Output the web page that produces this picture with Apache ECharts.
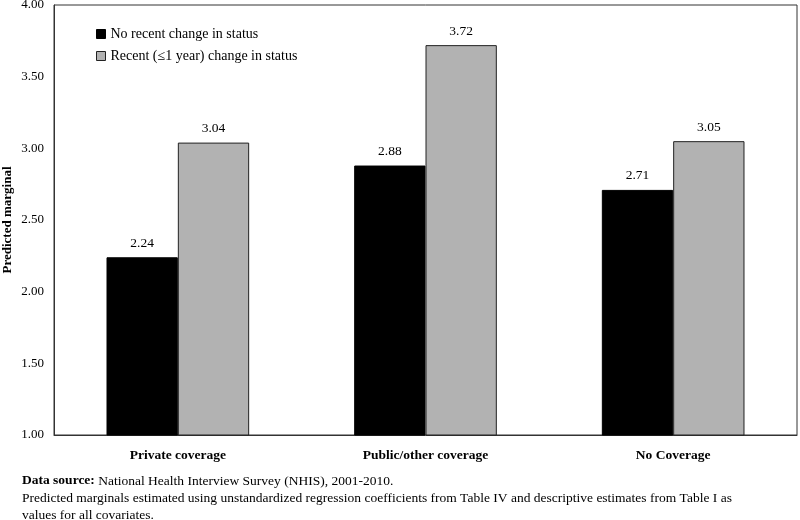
<!DOCTYPE html>
<html><head><meta charset="utf-8">
<script src="https://cdn.jsdelivr.net/npm/echarts@6/dist/echarts.min.js"></script>
<style>html,body{margin:0;padding:0;background:#fff}#c{width:800px;height:520px}</style>
</head><body><div id="c"></div>
<script>
const categories = ['Private coverage', 'Public/other coverage', 'No Coverage'];
const seriesNames = ['No recent change in status', 'Recent (\u22641 year) change in status'];
const noRecent = [2.24, 2.88, 2.71];
const recent = [3.04, 3.72, 3.05];
const yTicks = [1.00, 1.50, 2.00, 2.50, 3.00, 3.50, 4.00];
const noteBold = 'Data source:';
const noteLines = [
  ' National Health Interview Survey (NHIS), 2001-2010.',
  'Predicted marginals estimated using unstandardized regression coefficients from Table IV and descriptive estimates from Table I as',
  'values for all covariates.'
];

const F = '"Liberation Serif","Times New Roman",serif';
const mc = document.createElement('canvas').getContext('2d');
mc.font = 'bold 13.5px ' + F;
const boldW = mc.measureText(noteBold).width;

const chart = echarts.init(document.getElementById('c'), null, {renderer: 'canvas'});
const lbl = {show: true, position: 'top', distance: 7, color: '#000', fontFamily: F, fontSize: 13.5, formatter: p => p.value.toFixed(2)};
chart.setOption({
  animation: false,
  textStyle: {fontFamily: F},
  grid: {left: 54, right: 3, top: 5, bottom: 85, containLabel: false, outerBoundsMode: 'none',
         show: true, borderColor: '#333', borderWidth: 1},
  legend: {
    orient: 'vertical', left: 91, top: 22, itemWidth: 9, itemHeight: 9, itemGap: 8,
    textStyle: {fontFamily: F, fontSize: 14, color: '#000'},
    data: [
      {name: seriesNames[0], icon: 'rect', itemStyle: {color: '#000', borderColor: '#000', borderWidth: 1}},
      {name: seriesNames[1], icon: 'rect', itemStyle: {color: '#b2b2b2', borderColor: '#222', borderWidth: 1}}
    ]
  },
  xAxis: {
    type: 'category', data: categories,
    axisLine: {lineStyle: {color: '#333'}}, axisTick: {show: false},
    axisLabel: {fontFamily: F, fontSize: 13.5, fontWeight: 'bold', color: '#000', margin: 14}
  },
  yAxis: {
    type: 'value', min: 1, max: 4, interval: 0.5,
    name: 'Predicted marginal', nameLocation: 'middle', nameGap: 40, nameMoveOverlap: false,
    nameTextStyle: {fontFamily: F, fontSize: 13, fontWeight: 'bold', color: '#000'},
    axisLine: {show: true, lineStyle: {color: '#333'}},
    axisTick: {show: false},
    splitLine: {show: false},
    axisLabel: {fontFamily: F, fontSize: 13, color: '#000', margin: 10, formatter: v => yTicks.find(t => Math.abs(t - v) < 1e-9).toFixed(2)}
  },
  series: [
    {name: seriesNames[0], type: 'bar', data: noRecent, barGap: '0%', barCategoryGap: '42.4%',
     itemStyle: {color: '#000', borderColor: '#000', borderWidth: 1}, label: lbl},
    {name: seriesNames[1], type: 'bar', data: recent,
     itemStyle: {color: '#b2b2b2', borderColor: '#222', borderWidth: 1}, label: lbl}
  ],
  graphic: [
    {type: 'text', x: 22, y: 474, style: {text: noteBold, font: 'bold 13.5px ' + F, fill: '#000', verticalAlign: 'top'}},
    {type: 'text', x: 22 + boldW, y: 474, style: {text: noteLines[0], font: '13.5px ' + F, fill: '#000', verticalAlign: 'top'}},
    {type: 'text', x: 22, y: 491, style: {text: noteLines[1], font: '13.5px ' + F, fill: '#000', verticalAlign: 'top'}},
    {type: 'text', x: 22, y: 508, style: {text: noteLines[2], font: '13.5px ' + F, fill: '#000', verticalAlign: 'top'}}
  ]
});
</script></body></html>
